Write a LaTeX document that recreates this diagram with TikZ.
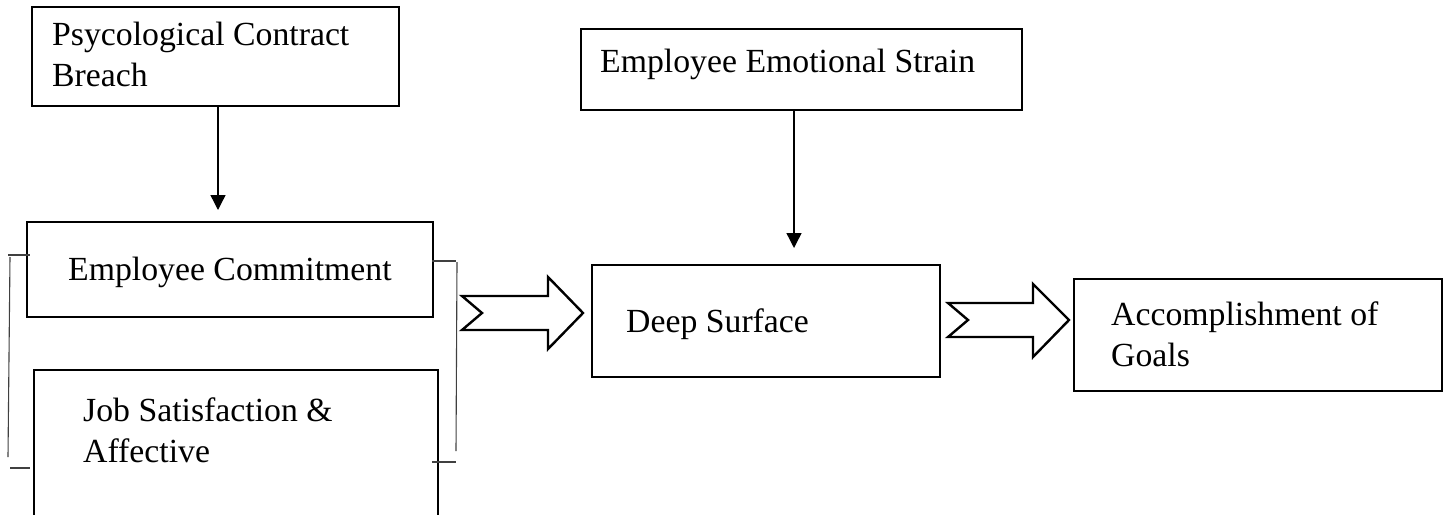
\documentclass[tikz,border=0pt]{standalone}
\usepackage{fontspec}
\setmainfont{Liberation Serif}
\usetikzlibrary{arrows.meta}

\begin{document}
\begin{tikzpicture}[x=1pt,y=-1pt]
   \tikzstyle{box}=[draw, line width=2.6pt, inner sep=0pt, outer sep=0pt, anchor=north west]
   \tikzstyle{thinbox}=[box, line width=1.4pt]
   \tikzstyle{txt}=[inner sep=0pt, anchor=base west, align=left, font=\fontsize{33.75}{41}\selectfont]
   \tikzstyle{arr}=[line width=1.4pt, -{Triangle[width=15pt,length=15pt]}]
   \tikzstyle{fat}=[line width=2.4pt, line join=miter]
   \tikzstyle{brace}=[line width=1.1pt, black!75]

   \clip (0,0) rectangle (1447,514);

% boxes
\node[thinbox, minimum width=367pt, minimum height=99pt] (pcb) at (32,7) {};
\node[box, minimum width=406pt, minimum height=95pt] (ecm) at (27,222) {};
\node[box, minimum width=404pt, minimum height=170pt] (jsa) at (34,370) {};
\node[thinbox, minimum width=441pt, minimum height=81pt] (ees) at (581,29) {};
\node[box, minimum width=348pt, minimum height=112pt] (dps) at (592,265) {};
\node[box, minimum width=368pt, minimum height=112pt] (acg) at (1074,279) {};

% texts (base = last line)
\node[txt] (pcbtxt) at (52,86) {Psycological Contract\\Breach};
\node[txt] (ecmtxt) at (68,280) {Employee Commitment};
\node[txt] (jsatxt) at (83,462) {Job Satisfaction \&\\Affective};
\node[txt] (eestxt) at (600,72) {Employee Emotional Strain};
\node[txt] (dpstxt) at (626,332) {Deep Surface};
\node[txt] (acgtxt) at (1111,366) {Accomplishment of\\Goals};

% arrows
\draw[arr, shorten >=12pt] ([xshift=2.5pt]pcb.south) -- ([xshift=2.5pt]pcb.south |- ecm.north);
\draw[arr, shorten >=17pt] ([xshift=-7.5pt]ees.south) -- ([xshift=-7.5pt]ees.south |- dps.north);

% bracket round the two left boxes
\draw[brace] (8,255) -- (30,255);
\draw[brace] (10,257) -- (8,457);
\draw[brace] (10,468) -- (30,468);
\draw[brace] (432,261) -- (456,261);
\draw[brace] (457,262) -- (456,451);
\draw[brace] (432,462) -- (456,462);

% block arrows
\draw[fat] (462,296) -- (548,296) -- (548,277) -- (583,313) -- (548,349) -- (548,330) -- (462,330) -- (482,313) -- cycle;
\draw[fat] (948,303) -- (1033,303) -- (1033,284) -- (1069,320) -- (1033,357) -- (1033,337) -- (948,337) -- (968,320) -- cycle;

\end{tikzpicture}
\end{document}
